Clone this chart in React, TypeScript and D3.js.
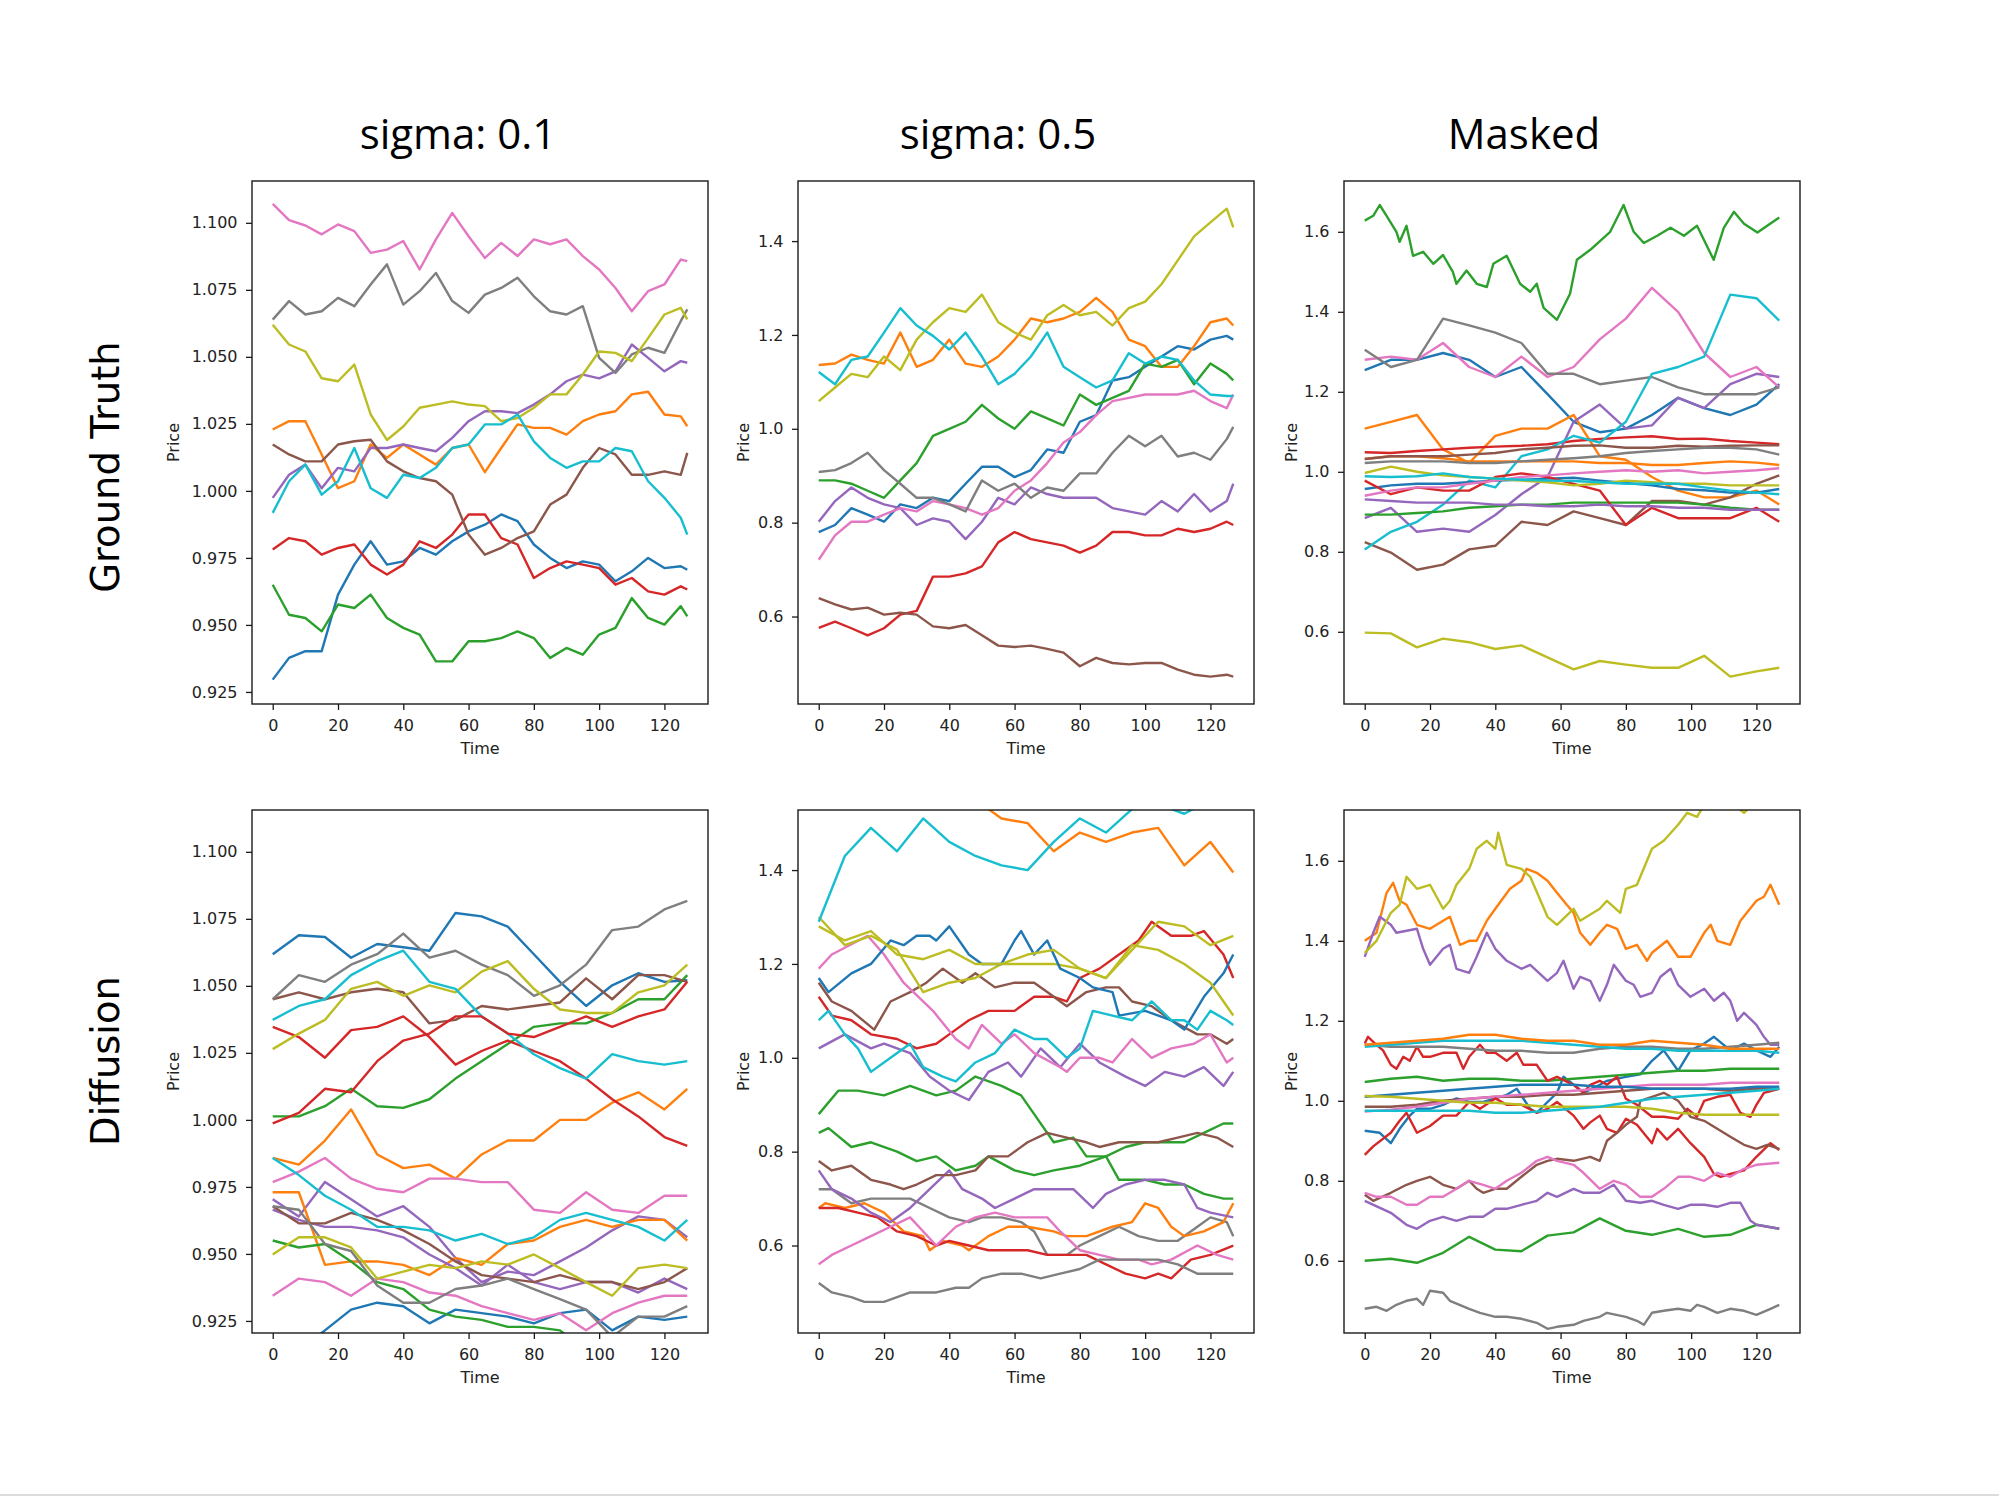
import { useEffect, useRef } from "react";
import * as d3 from "d3";

// matplotlib default colour cycle, series i uses colors[i % 10]
const colors = ["#1f77b4", "#ff7f0e", "#2ca02c", "#d62728", "#9467bd", "#8c564b", "#e377c2", "#7f7f7f", "#bcbd22", "#17becf"];

// sample times the paths were read at
const timesFine = [0, 5, 10, 15, 20, 25, 30, 35, 40, 45, 50, 55, 60, 65, 70, 75, 80, 85, 90, 95, 100, 105, 110, 115, 120, 125, 127];
const timesCoarse = [0, 8, 16, 24, 32, 40, 48, 56, 64, 72, 80, 88, 96, 104, 112, 120, 127];

const xTicks = [0, 20, 40, 60, 80, 100, 120];
const yTicksSigma01 = [0.925, 0.95, 0.975, 1.0, 1.025, 1.05, 1.075, 1.1];
const yTicksSigma05 = [0.6, 0.8, 1.0, 1.2, 1.4];
const yTicksMasked = [0.6, 0.8, 1.0, 1.2, 1.4, 1.6];

const columnTitles = ["sigma: 0.1", "sigma: 0.5", "Masked"];
const rowTitles = ["Ground Truth", "Diffusion"];

type Pt = [number, number];
const onGrid = (times: number[], values: number[]): Pt[] => values.map((v, i) => [times[i], v] as Pt);
const g8 = (values: number[]) => onGrid(timesCoarse, values);

// ground truth, sigma 0.1 (timesFine)
const gtSigma01 = [
  [0.9296, 0.9377, 0.9402, 0.9402, 0.9613, 0.9725, 0.9812, 0.9725, 0.9737, 0.9787, 0.9762, 0.9812, 0.9849, 0.9874, 0.9912, 0.9887, 0.98, 0.975, 0.9712, 0.9737, 0.9725, 0.9663, 0.97, 0.975, 0.9712, 0.9719, 0.9706],
  [1.0229, 1.026, 1.026, 1.0136, 1.001, 1.0036, 1.0173, 1.0123, 1.0173, 1.0136, 1.0098, 1.016, 1.0173, 1.007, 1.016, 1.0248, 1.0235, 1.0235, 1.021, 1.026, 1.0285, 1.0297, 1.036, 1.037, 1.0285, 1.0278, 1.0241],
  [0.965, 0.9538, 0.9526, 0.9476, 0.9576, 0.9563, 0.9613, 0.9526, 0.9489, 0.9464, 0.9364, 0.9364, 0.9439, 0.9439, 0.9451, 0.9476, 0.9451, 0.9377, 0.9414, 0.9389, 0.9464, 0.9489, 0.96, 0.9526, 0.9501, 0.957, 0.9532],
  [0.9781, 0.9824, 0.9812, 0.9762, 0.9787, 0.98, 0.9725, 0.9688, 0.9725, 0.9812, 0.9787, 0.9837, 0.9912, 0.9912, 0.9824, 0.98, 0.9675, 0.9712, 0.9737, 0.9725, 0.9712, 0.965, 0.9675, 0.9625, 0.9613, 0.9644, 0.9632],
  [0.9974, 1.006, 1.0098, 1.001, 1.0086, 1.0073, 1.016, 1.016, 1.0173, 1.016, 1.0148, 1.0198, 1.026, 1.0297, 1.0297, 1.029, 1.0322, 1.036, 1.0409, 1.0434, 1.042, 1.0446, 1.0546, 1.0496, 1.0446, 1.0484, 1.0478],
  [1.0173, 1.0136, 1.011, 1.011, 1.0173, 1.0185, 1.0191, 1.011, 1.0073, 1.0048, 1.0036, 0.9986, 0.9837, 0.9762, 0.9787, 0.9824, 0.9849, 0.9949, 0.9986, 1.0086, 1.016, 1.0136, 1.006, 1.006, 1.0073, 1.006, 1.0142],
  [1.1071, 1.101, 1.099, 1.0957, 1.0994, 1.0969, 1.0888, 1.09, 1.0932, 1.0826, 1.0938, 1.1037, 1.095, 1.0869, 1.0925, 1.0876, 1.0938, 1.092, 1.0938, 1.0876, 1.0826, 1.0757, 1.067, 1.0745, 1.077, 1.0863, 1.0857],
  [1.0639, 1.0708, 1.0658, 1.067, 1.072, 1.0689, 1.077, 1.0845, 1.0695, 1.0745, 1.0813, 1.0708, 1.0664, 1.0732, 1.0757, 1.0795, 1.0726, 1.067, 1.0658, 1.0689, 1.0496, 1.044, 1.0509, 1.0534, 1.0515, 1.0633, 1.0677],
  [1.062, 1.0546, 1.052, 1.042, 1.0409, 1.0471, 1.0285, 1.019, 1.024, 1.031, 1.0322, 1.0334, 1.0322, 1.0316, 1.026, 1.0272, 1.031, 1.036, 1.036, 1.0434, 1.052, 1.0515, 1.0484, 1.057, 1.0658, 1.0683, 1.064],
  [0.9918, 1.0036, 1.0098, 0.9986, 1.0036, 1.016, 1.001, 0.9974, 1.006, 1.0048, 1.0086, 1.016, 1.0173, 1.0248, 1.0248, 1.0285, 1.0185, 1.0123, 1.0086, 1.011, 1.011, 1.016, 1.0148, 1.0036, 0.9974, 0.99, 0.9837],
];

// ground truth, sigma 0.5 (timesFine)
const gtSigma05 = [
  [0.78, 0.795, 0.831, 0.817, 0.802, 0.839, 0.831, 0.853, 0.846, 0.883, 0.919, 0.919, 0.897, 0.912, 0.956, 0.949, 1.015, 1.029, 1.103, 1.11, 1.132, 1.154, 1.176, 1.169, 1.19, 1.198, 1.19],
  [1.136, 1.139, 1.158, 1.147, 1.139, 1.205, 1.132, 1.147, 1.19, 1.139, 1.132, 1.154, 1.19, 1.235, 1.227, 1.235, 1.249, 1.279, 1.249, 1.19, 1.176, 1.132, 1.132, 1.176, 1.227, 1.235, 1.22],
  [0.89, 0.89, 0.883, 0.868, 0.853, 0.89, 0.927, 0.985, 1.0, 1.015, 1.051, 1.022, 1.0, 1.037, 1.022, 1.007, 1.073, 1.051, 1.066, 1.081, 1.139, 1.132, 1.147, 1.095, 1.139, 1.117, 1.103],
  [0.576, 0.589, 0.575, 0.56, 0.575, 0.604, 0.612, 0.685, 0.685, 0.692, 0.707, 0.758, 0.78, 0.765, 0.758, 0.751, 0.736, 0.751, 0.78, 0.78, 0.773, 0.773, 0.787, 0.78, 0.787, 0.802, 0.795],
  [0.802, 0.846, 0.875, 0.853, 0.839, 0.831, 0.795, 0.809, 0.802, 0.765, 0.802, 0.853, 0.839, 0.875, 0.861, 0.853, 0.853, 0.853, 0.831, 0.824, 0.817, 0.846, 0.824, 0.861, 0.824, 0.846, 0.883],
  [0.639, 0.626, 0.615, 0.619, 0.604, 0.608, 0.604, 0.579, 0.575, 0.582, 0.56, 0.538, 0.535, 0.538, 0.531, 0.523, 0.494, 0.512, 0.501, 0.498, 0.501, 0.501, 0.487, 0.476, 0.472, 0.476, 0.472],
  [0.721, 0.773, 0.802, 0.802, 0.817, 0.831, 0.824, 0.846, 0.839, 0.831, 0.817, 0.831, 0.868, 0.89, 0.927, 0.971, 0.993, 1.029, 1.059, 1.066, 1.073, 1.073, 1.073, 1.081, 1.059, 1.044, 1.073],
  [0.908, 0.912, 0.927, 0.949, 0.912, 0.883, 0.853, 0.853, 0.839, 0.824, 0.89, 0.868, 0.883, 0.853, 0.875, 0.868, 0.905, 0.905, 0.949, 0.985, 0.963, 0.985, 0.941, 0.949, 0.934, 0.978, 1.004],
  [1.059, 1.088, 1.117, 1.11, 1.154, 1.125, 1.19, 1.227, 1.257, 1.249, 1.286, 1.227, 1.205, 1.19, 1.242, 1.264, 1.242, 1.249, 1.22, 1.257, 1.271, 1.308, 1.359, 1.41, 1.44, 1.469, 1.429],
  [1.121, 1.095, 1.147, 1.154, 1.205, 1.257, 1.22, 1.198, 1.169, 1.205, 1.154, 1.095, 1.117, 1.154, 1.205, 1.132, 1.11, 1.088, 1.103, 1.161, 1.139, 1.154, 1.147, 1.103, 1.073, 1.07, 1.07],
];

// ground truth, masked (timesCoarse); the top green path is read more finely below
const gtMasked = [
  [1.254, 1.28, 1.28, 1.297, 1.28, 1.237, 1.262, 1.194, 1.125, 1.099, 1.108, 1.142, 1.185, 1.159, 1.142, 1.168, 1.219],
  [1.108, 1.125, 1.142, 1.056, 1.022, 1.09, 1.108, 1.108, 1.142, 1.039, 1.03, 0.987, 0.953, 0.936, 0.936, 0.953, 0.918],
  [1.628, 1.667, 1.555, 1.542, 1.503, 1.512, 1.469, 1.409, 1.49, 1.581, 1.667, 1.572, 1.606, 1.572, 1.632, 1.598, 1.636],
  [1.049, 1.047, 1.052, 1.056, 1.06, 1.063, 1.065, 1.069, 1.077, 1.082, 1.086, 1.089, 1.082, 1.083, 1.077, 1.073, 1.069],
  [0.884, 0.91, 0.85, 0.858, 0.85, 0.892, 0.944, 0.987, 1.125, 1.168, 1.108, 1.116, 1.185, 1.159, 1.219, 1.245, 1.237],
  [0.824, 0.798, 0.755, 0.768, 0.806, 0.815, 0.875, 0.867, 0.901, 0.884, 0.867, 0.927, 0.927, 0.918, 0.936, 0.97, 0.991],
  [1.28, 1.288, 1.28, 1.322, 1.262, 1.237, 1.288, 1.237, 1.262, 1.331, 1.383, 1.46, 1.4, 1.297, 1.237, 1.262, 1.211],
  [1.305, 1.262, 1.28, 1.383, 1.366, 1.348, 1.322, 1.245, 1.245, 1.219, 1.228, 1.237, 1.211, 1.194, 1.194, 1.194, 1.211],
  [0.598, 0.596, 0.561, 0.583, 0.574, 0.557, 0.566, 0.536, 0.506, 0.527, 0.518, 0.51, 0.51, 0.54, 0.488, 0.501, 0.51],
  [0.806, 0.85, 0.875, 0.918, 0.978, 0.961, 1.039, 1.056, 1.09, 1.073, 1.125, 1.245, 1.262, 1.288, 1.443, 1.434, 1.378],
  [0.957, 0.966, 0.97, 0.97, 0.974, 0.978, 0.98, 0.983, 0.985, 0.978, 0.972, 0.966, 0.957, 0.954, 0.948, 0.948, 0.957],
  [1.032, 1.039, 1.039, 1.034, 1.026, 1.026, 1.026, 1.026, 1.026, 1.022, 1.022, 1.017, 1.017, 1.022, 1.026, 1.023, 1.017],
  [0.893, 0.893, 0.897, 0.901, 0.91, 0.914, 0.918, 0.918, 0.923, 0.923, 0.923, 0.923, 0.923, 0.918, 0.91, 0.905, 0.905],
  [0.978, 0.944, 0.961, 0.953, 0.953, 0.987, 0.996, 0.987, 0.97, 0.953, 0.867, 0.91, 0.884, 0.884, 0.884, 0.91, 0.875],
  [0.931, 0.927, 0.923, 0.923, 0.923, 0.918, 0.918, 0.914, 0.914, 0.918, 0.914, 0.914, 0.91, 0.91, 0.905, 0.905, 0.905],
  [1.032, 1.039, 1.039, 1.039, 1.043, 1.047, 1.056, 1.06, 1.065, 1.066, 1.06, 1.06, 1.065, 1.063, 1.065, 1.066, 1.066],
  [0.94, 0.953, 0.961, 0.961, 0.97, 0.978, 0.987, 0.991, 0.996, 1.0, 1.004, 1.0, 1.004, 0.996, 1.0, 1.004, 1.009],
  [1.022, 1.026, 1.026, 1.026, 1.022, 1.022, 1.026, 1.03, 1.034, 1.039, 1.047, 1.052, 1.056, 1.06, 1.06, 1.056, 1.043],
  [0.997, 1.013, 1.0, 0.991, 0.987, 0.983, 0.978, 0.974, 0.966, 0.97, 0.978, 0.974, 0.97, 0.97, 0.966, 0.966, 0.966],
  [0.989, 0.987, 0.989, 0.996, 0.987, 0.983, 0.98, 0.978, 0.977, 0.974, 0.97, 0.97, 0.97, 0.961, 0.953, 0.948, 0.944],
];
const gtMaskedGreen: Pt[] = [
  [0, 1.628], [2.6, 1.64], [4.6, 1.667], [6.7, 1.64], [9.7, 1.6], [10.7, 1.575], [12.8, 1.615], [14.8, 1.54], [17.9, 1.55], [21, 1.52], [24, 1.542], [27, 1.5],
  [28.1, 1.47], [31.2, 1.503], [34.3, 1.47], [37.4, 1.462], [39.4, 1.52], [43.5, 1.54], [47.6, 1.47], [50.7, 1.45], [52.7, 1.47], [54.8, 1.41], [58.9, 1.38],
  [62.9, 1.445], [65, 1.53], [69.1, 1.555], [75.2, 1.6], [79.3, 1.667], [82.4, 1.6], [85.5, 1.572], [89.6, 1.59], [93.7, 1.61], [97.8, 1.59], [101.8, 1.615],
  [106.9, 1.53], [110, 1.61], [113.1, 1.65], [116.2, 1.62], [120.3, 1.598], [123.3, 1.615], [127, 1.636],
];

// diffusion, sigma 0.1 (timesCoarse)
const diffSigma01 = [
  [1.0618, 1.0689, 1.0682, 1.0605, 1.0656, 1.0644, 1.0631, 1.0772, 1.0759, 1.0721, 1.0618, 1.0515, 1.0425, 1.0502, 1.0547, 1.0515, 1.0521],
  [0.9858, 0.9833, 0.9923, 1.0039, 0.9871, 0.982, 0.9833, 0.9781, 0.9871, 0.9923, 0.9923, 1.0, 1.0, 1.0064, 1.0103, 1.0039, 1.0116],
  [1.0013, 1.0013, 1.0051, 1.0116, 1.0051, 1.0045, 1.0077, 1.0154, 1.0219, 1.0283, 1.0347, 1.036, 1.036, 1.0399, 1.045, 1.045, 1.054],
  [1.0347, 1.0309, 1.0232, 1.0335, 1.0347, 1.0386, 1.0309, 1.0206, 1.0257, 1.0296, 1.0257, 1.0219, 1.0154, 1.0077, 1.0013, 0.9936, 0.9903],
  [0.9704, 0.964, 0.9768, 0.9704, 0.964, 0.9678, 0.9601, 0.9485, 0.9395, 0.9434, 0.9421, 0.9472, 0.9524, 0.9588, 0.964, 0.9627, 0.9562],
  [1.045, 1.0476, 1.045, 1.0476, 1.0489, 1.0476, 1.036, 1.0373, 1.0425, 1.0412, 1.0425, 1.0438, 1.0528, 1.045, 1.054, 1.054, 1.0515],
  [0.9768, 0.9807, 0.9858, 0.9781, 0.9743, 0.973, 0.9781, 0.9781, 0.9768, 0.9768, 0.9665, 0.9653, 0.973, 0.9665, 0.9653, 0.9717, 0.9717],
  [1.045, 1.054, 1.0515, 1.0579, 1.0618, 1.0695, 1.0605, 1.0631, 1.0579, 1.054, 1.0463, 1.0502, 1.0579, 1.0708, 1.0721, 1.0785, 1.0817],
  [1.0264, 1.0322, 1.0373, 1.0489, 1.0515, 1.0463, 1.0502, 1.0476, 1.0553, 1.0592, 1.0489, 1.0412, 1.0399, 1.0399, 1.0476, 1.0502, 1.0579],
  [1.0373, 1.0425, 1.045, 1.054, 1.0592, 1.0631, 1.0515, 1.0489, 1.0386, 1.0322, 1.0245, 1.0193, 1.0154, 1.0245, 1.0219, 1.0206, 1.0219],
  [0.911, 0.9138, 0.9215, 0.9292, 0.9318, 0.9305, 0.9241, 0.9292, 0.9279, 0.9266, 0.9241, 0.9279, 0.9292, 0.9215, 0.9266, 0.9254, 0.9266],
  [0.973, 0.973, 0.9459, 0.9472, 0.9472, 0.9459, 0.9421, 0.9485, 0.9459, 0.9537, 0.955, 0.9601, 0.9627, 0.9601, 0.9627, 0.9627, 0.955],
  [0.955, 0.9524, 0.9537, 0.9472, 0.9395, 0.9369, 0.9292, 0.9266, 0.9254, 0.9228, 0.9228, 0.9215, 0.9138, 0.911, 0.9138, 0.912, 0.9138],
  [0.9987, 1.0026, 1.0116, 1.0103, 1.0219, 1.0296, 1.0322, 1.0386, 1.0386, 1.0322, 1.0309, 1.0347, 1.0386, 1.0347, 1.0386, 1.0412, 1.0515],
  [0.9665, 0.9627, 0.9601, 0.9601, 0.9588, 0.9562, 0.9498, 0.9447, 0.9382, 0.946, 0.9395, 0.9369, 0.9395, 0.9395, 0.9356, 0.9408, 0.9369],
  [0.9678, 0.9614, 0.9614, 0.9653, 0.9627, 0.9588, 0.9537, 0.9472, 0.9421, 0.9408, 0.9395, 0.9421, 0.9395, 0.9395, 0.9369, 0.9395, 0.9447],
  [0.9344, 0.9408, 0.9395, 0.9344, 0.9408, 0.9395, 0.9356, 0.9344, 0.9305, 0.9279, 0.9254, 0.9279, 0.9215, 0.9279, 0.9318, 0.9344, 0.9344],
  [0.9678, 0.9665, 0.9537, 0.9511, 0.9382, 0.9318, 0.9318, 0.9369, 0.9382, 0.9408, 0.9369, 0.9331, 0.9292, 0.919, 0.9266, 0.9266, 0.9305],
  [0.9498, 0.9562, 0.9562, 0.9524, 0.9408, 0.9434, 0.9459, 0.9447, 0.9472, 0.946, 0.9498, 0.9447, 0.9395, 0.9344, 0.9447, 0.946, 0.9447],
  [0.9858, 0.9794, 0.9717, 0.9665, 0.9601, 0.9601, 0.9588, 0.955, 0.9575, 0.9537, 0.9562, 0.9627, 0.9653, 0.9627, 0.9601, 0.955, 0.9627],
];

// diffusion, sigma 0.5 ([time, price] points)
const diffSigma05: Pt[][] = [
  g8([1.53, 1.58, 1.6, 1.62, 1.6, 1.62, 1.64, 1.62, 1.6, 1.62, 1.6, 1.58, 1.6, 1.62, 1.6, 1.6, 1.62]),
  g8([1.6, 1.62, 1.6, 1.58, 1.57, 1.56, 1.55, 1.51, 1.5, 1.44, 1.48, 1.46, 1.48, 1.49, 1.41, 1.46, 1.395]),
  [[0, 0.88], [6, 0.93], [12, 0.93], [20, 0.92], [28, 0.94], [36, 0.92], [42, 0.93], [48, 0.96], [56, 0.94], [62, 0.92], [66, 0.88], [72, 0.82], [78, 0.83], [82, 0.79], [88, 0.79], [92, 0.74], [100, 0.74], [106, 0.73], [112, 0.73], [118, 0.71], [124, 0.7], [127, 0.7]],
  [[0, 1.13], [4, 1.09], [10, 1.08], [16, 1.05], [24, 1.04], [30, 1.02], [36, 1.03], [42, 1.06], [46, 1.08], [52, 1.1], [60, 1.1], [66, 1.13], [72, 1.13], [76, 1.12], [80, 1.17], [86, 1.19], [92, 1.22], [98, 1.25], [102, 1.29], [108, 1.26], [114, 1.26], [118, 1.27], [124, 1.22], [127, 1.17]],
  [[0, 1.02], [8, 1.05], [16, 1.02], [20, 1.03], [28, 1.01], [34, 0.96], [40, 0.93], [46, 0.91], [52, 0.97], [58, 0.99], [62, 0.96], [68, 1.02], [74, 0.98], [80, 1.03], [86, 0.99], [94, 0.96], [100, 0.94], [106, 0.97], [112, 0.96], [118, 0.98], [124, 0.94], [127, 0.97]],
  [[0, 1.16], [4, 1.12], [10, 1.1], [17, 1.06], [22, 1.12], [28, 1.14], [33, 1.16], [38, 1.19], [44, 1.16], [48, 1.18], [54, 1.15], [60, 1.16], [66, 1.16], [70, 1.14], [76, 1.11], [82, 1.14], [88, 1.15], [92, 1.15], [96, 1.12], [102, 1.11], [108, 1.08], [116, 1.05], [120, 1.05], [125, 1.03], [127, 1.04]],
  [[0, 1.19], [4, 1.22], [15, 1.26], [20, 1.22], [26, 1.16], [35, 1.1], [42, 1.04], [46, 1.02], [50, 1.07], [56, 1.03], [60, 1.05], [66, 1.01], [74, 0.98], [76, 0.97], [80, 1.0], [86, 1.0], [90, 0.99], [96, 1.04], [102, 1.0], [108, 1.02], [115, 1.03], [120, 1.05], [125, 0.99], [127, 1.0]],
  [[0, 0.72], [4, 0.72], [10, 0.69], [16, 0.7], [22, 0.7], [28, 0.7], [34, 0.68], [40, 0.66], [46, 0.65], [50, 0.66], [56, 0.66], [62, 0.65], [66, 0.63], [70, 0.58], [76, 0.58], [80, 0.6], [86, 0.62], [92, 0.64], [98, 0.62], [104, 0.61], [110, 0.61], [116, 0.64], [120, 0.66], [125, 0.65], [127, 0.62]],
  g8([1.3, 1.24, 1.26, 1.23, 1.14, 1.16, 1.17, 1.2, 1.2, 1.2, 1.19, 1.17, 1.23, 1.29, 1.28, 1.24, 1.26]),
  g8([1.29, 1.43, 1.49, 1.44, 1.51, 1.46, 1.43, 1.41, 1.4, 1.46, 1.51, 1.48, 1.53, 1.54, 1.52, 1.55, 1.56]),
  [[0, 1.17], [3, 1.14], [10, 1.18], [16, 1.2], [22, 1.25], [26, 1.24], [30, 1.26], [34, 1.26], [36, 1.25], [40, 1.28], [46, 1.22], [50, 1.2], [56, 1.2], [60, 1.25], [62, 1.27], [66, 1.22], [70, 1.25], [74, 1.19], [80, 1.17], [84, 1.15], [90, 1.14], [92, 1.09], [100, 1.1], [108, 1.08], [112, 1.06], [118, 1.13], [124, 1.18], [127, 1.22]],
  [[0, 0.68], [2, 0.69], [8, 0.68], [14, 0.69], [20, 0.67], [26, 0.63], [32, 0.62], [34, 0.59], [38, 0.61], [44, 0.6], [46, 0.59], [52, 0.62], [58, 0.64], [64, 0.64], [72, 0.63], [76, 0.62], [82, 0.62], [90, 0.64], [96, 0.65], [100, 0.69], [104, 0.68], [108, 0.64], [112, 0.62], [118, 0.63], [124, 0.65], [127, 0.69]],
  [[0, 0.84], [3, 0.85], [10, 0.81], [16, 0.82], [24, 0.8], [30, 0.78], [36, 0.79], [42, 0.76], [48, 0.77], [52, 0.79], [60, 0.76], [66, 0.75], [72, 0.76], [80, 0.77], [88, 0.79], [94, 0.81], [100, 0.82], [106, 0.82], [112, 0.82], [118, 0.84], [124, 0.86], [127, 0.86]],
  [[0, 0.68], [6, 0.68], [12, 0.67], [18, 0.66], [24, 0.63], [30, 0.62], [36, 0.6], [40, 0.61], [46, 0.6], [52, 0.59], [58, 0.59], [64, 0.59], [70, 0.58], [76, 0.58], [82, 0.58], [88, 0.56], [94, 0.54], [100, 0.53], [104, 0.54], [108, 0.53], [114, 0.57], [120, 0.58], [127, 0.6]],
  [[0, 0.76], [4, 0.72], [10, 0.7], [16, 0.67], [22, 0.65], [28, 0.68], [34, 0.72], [40, 0.76], [44, 0.72], [50, 0.7], [54, 0.68], [60, 0.7], [66, 0.72], [72, 0.72], [78, 0.72], [84, 0.68], [88, 0.71], [94, 0.73], [100, 0.74], [106, 0.74], [112, 0.73], [116, 0.68], [120, 0.67], [127, 0.66]],
  [[0, 0.78], [4, 0.76], [10, 0.77], [16, 0.74], [22, 0.73], [26, 0.72], [30, 0.73], [36, 0.75], [42, 0.75], [48, 0.76], [52, 0.79], [58, 0.79], [64, 0.82], [70, 0.84], [76, 0.83], [82, 0.82], [86, 0.81], [92, 0.82], [98, 0.82], [104, 0.82], [110, 0.83], [116, 0.84], [122, 0.83], [127, 0.81]],
  [[0, 0.56], [4, 0.58], [10, 0.6], [16, 0.62], [22, 0.64], [28, 0.66], [36, 0.6], [42, 0.64], [48, 0.66], [54, 0.67], [60, 0.66], [66, 0.66], [70, 0.66], [74, 0.63], [80, 0.59], [86, 0.58], [92, 0.57], [98, 0.57], [102, 0.56], [108, 0.57], [116, 0.6], [122, 0.58], [127, 0.57]],
  [[0, 0.52], [4, 0.5], [10, 0.49], [14, 0.48], [20, 0.48], [28, 0.5], [36, 0.5], [42, 0.51], [46, 0.51], [50, 0.53], [56, 0.54], [62, 0.54], [68, 0.53], [74, 0.54], [80, 0.55], [86, 0.57], [92, 0.57], [98, 0.57], [104, 0.57], [110, 0.56], [116, 0.54], [122, 0.54], [127, 0.54]],
  g8([1.28, 1.25, 1.27, 1.22, 1.21, 1.23, 1.2, 1.2, 1.22, 1.23, 1.19, 1.17, 1.24, 1.23, 1.2, 1.16, 1.09]),
  [[0, 1.08], [3, 1.1], [8, 1.05], [12, 1.02], [16, 0.97], [22, 1.0], [28, 1.03], [32, 0.98], [38, 0.96], [42, 0.95], [48, 0.99], [54, 1.01], [60, 1.06], [66, 1.04], [70, 1.04], [76, 1.0], [80, 1.02], [84, 1.1], [90, 1.09], [96, 1.08], [102, 1.12], [108, 1.08], [112, 1.08], [116, 1.06], [120, 1.1], [125, 1.08], [127, 1.07]],
];

// diffusion, masked ([time, price] points)
const diffMasked: Pt[][] = [
  [[0, 0.925], [4.6, 0.92], [8, 0.894], [10.7, 0.93], [13.8, 0.963], [16, 0.98], [20, 0.98], [24, 0.99], [28.1, 1.006], [32, 0.997], [36.3, 0.997], [40, 1.006], [43.5, 1.015], [46.6, 1.03], [50.7, 0.98], [52.7, 0.97], [56, 0.997], [58.9, 1.02], [60.9, 1.06], [64, 1.04], [67, 1.02], [72, 1.04], [74.2, 1.05], [80, 1.06], [84.4, 1.066], [88, 1.1], [91.6, 1.126], [96, 1.075], [99.8, 1.126], [104, 1.143], [107, 1.16], [112, 1.126], [116.2, 1.143], [120, 1.126], [124.3, 1.11], [127, 1.135]],
  [[0, 1.4], [3.6, 1.42], [6.7, 1.52], [8.7, 1.545], [10.7, 1.5], [12.8, 1.49], [16, 1.44], [20, 1.43], [24, 1.45], [26.1, 1.46], [29.2, 1.39], [32, 1.4], [34.3, 1.4], [37.4, 1.45], [40, 1.48], [44.5, 1.53], [48, 1.55], [49.6, 1.58], [52.7, 1.57], [56, 1.55], [58.9, 1.52], [61.9, 1.49], [64, 1.47], [66, 1.42], [69.1, 1.39], [72, 1.42], [74.2, 1.44], [77.3, 1.43], [80, 1.38], [83.4, 1.39], [86.5, 1.35], [88, 1.37], [92.6, 1.4], [96, 1.36], [99.8, 1.36], [104, 1.42], [106, 1.44], [108, 1.4], [112, 1.39], [115.1, 1.45], [120, 1.5], [122.3, 1.51], [124.3, 1.54], [127, 1.49]],
  g8([1.047, 1.055, 1.06, 1.05, 1.055, 1.055, 1.05, 1.05, 1.055, 1.06, 1.065, 1.07, 1.075, 1.075, 1.08, 1.08, 1.08]),
  [[0, 1.143], [1, 1.16], [3.6, 1.14], [5.6, 1.126], [8, 1.09], [9.7, 1.08], [11.8, 1.11], [13.8, 1.1], [16, 1.135], [17.9, 1.11], [20, 1.11], [24, 1.12], [28.1, 1.12], [30.2, 1.08], [32, 1.11], [35.3, 1.14], [37.4, 1.12], [40, 1.12], [43.5, 1.1], [46.6, 1.12], [48.6, 1.09], [52.7, 1.09], [56, 1.05], [58.9, 1.06], [64, 1.04], [67, 1.02], [69.1, 1.04], [72, 1.05], [74.2, 1.04], [77.3, 1.06], [80, 1.005], [83.4, 0.99], [88, 0.96], [91.6, 0.96], [96, 0.955], [98.8, 0.98], [101.8, 0.96], [104, 1.0], [108, 1.01], [112, 1.015], [115.1, 0.97], [118.2, 0.96], [120, 0.99], [122.3, 1.02], [127, 1.03]],
  [[0, 1.36], [2.6, 1.42], [4.6, 1.46], [8, 1.44], [9.7, 1.42], [16, 1.43], [17.9, 1.38], [20, 1.34], [22, 1.36], [24, 1.38], [26.1, 1.39], [28.1, 1.33], [32, 1.32], [34.3, 1.36], [37.4, 1.42], [40, 1.38], [43.5, 1.35], [48, 1.33], [50.7, 1.34], [56, 1.3], [58.9, 1.32], [60.9, 1.35], [64, 1.28], [66, 1.31], [69.1, 1.3], [72, 1.25], [74.2, 1.29], [76.3, 1.34], [80, 1.3], [82.4, 1.29], [84.4, 1.26], [88, 1.27], [90.6, 1.31], [93.7, 1.33], [96, 1.29], [99.8, 1.26], [104, 1.28], [107, 1.25], [110, 1.27], [112, 1.25], [114.1, 1.2], [116.2, 1.22], [120, 1.19], [122.3, 1.16], [124.3, 1.14], [127, 1.14]],
  g8([0.985, 0.985, 0.99, 1.0, 1.005, 1.01, 1.01, 1.015, 1.015, 1.02, 1.025, 1.03, 1.03, 1.03, 1.025, 1.03, 1.03]),
  g8([0.973, 0.978, 0.985, 0.995, 1.005, 1.01, 1.015, 1.02, 1.025, 1.03, 1.035, 1.04, 1.04, 1.04, 1.045, 1.045, 1.045]),
  g8([1.14, 1.135, 1.135, 1.135, 1.13, 1.125, 1.125, 1.12, 1.12, 1.13, 1.135, 1.135, 1.13, 1.13, 1.135, 1.14, 1.145]),
  [[0, 1.37], [3.6, 1.4], [8, 1.47], [10.7, 1.49], [12.8, 1.56], [16, 1.53], [20, 1.54], [24, 1.48], [26.1, 1.5], [28.1, 1.54], [32, 1.58], [34.3, 1.63], [37.4, 1.65], [40, 1.63], [40.9, 1.67], [43.5, 1.59], [48, 1.58], [50.7, 1.56], [56, 1.46], [58.9, 1.44], [64, 1.48], [66, 1.45], [72, 1.48], [74.2, 1.5], [78.3, 1.47], [80, 1.53], [83.4, 1.54], [88, 1.63], [91.6, 1.65], [96, 1.69], [98.8, 1.72], [101.8, 1.71], [104, 1.74], [110, 1.76], [116.2, 1.72], [120, 1.75], [127, 1.77]],
  g8([1.135, 1.14, 1.145, 1.15, 1.15, 1.15, 1.15, 1.145, 1.14, 1.135, 1.13, 1.13, 1.125, 1.125, 1.125, 1.125, 1.12]),
  g8([1.01, 1.015, 1.02, 1.025, 1.03, 1.035, 1.04, 1.04, 1.04, 1.035, 1.035, 1.03, 1.03, 1.03, 1.03, 1.035, 1.035]),
  g8([1.14, 1.145, 1.15, 1.155, 1.165, 1.165, 1.155, 1.15, 1.15, 1.14, 1.14, 1.15, 1.145, 1.14, 1.13, 1.13, 1.13]),
  g8([0.6, 0.605, 0.595, 0.62, 0.66, 0.628, 0.624, 0.663, 0.671, 0.706, 0.675, 0.665, 0.68, 0.66, 0.665, 0.69, 0.68]),
  [[0, 0.865], [2.6, 0.886], [8, 0.92], [10.7, 0.95], [12.8, 0.97], [16, 0.92], [20, 0.937], [24, 0.963], [28.1, 0.963], [32, 0.997], [35.3, 0.98], [40, 1.006], [43.5, 0.99], [48, 0.99], [52.7, 0.97], [56, 0.98], [58.9, 0.997], [64, 0.963], [67, 0.93], [69.1, 0.946], [72, 0.963], [74.2, 0.93], [77.3, 0.92], [80, 0.955], [83.4, 0.94], [88, 0.894], [89.6, 0.93], [92.6, 0.903], [96, 0.93], [99.8, 0.894], [104, 0.86], [107, 0.817], [109, 0.81], [112, 0.817], [116.2, 0.826], [120, 0.86], [124.3, 0.894], [127, 0.877]],
  [[0, 0.75], [8, 0.72], [12.8, 0.69], [16, 0.68], [20, 0.7], [24, 0.71], [28.1, 0.7], [32, 0.71], [36.3, 0.71], [40, 0.73], [43.5, 0.73], [48, 0.74], [52.7, 0.75], [56, 0.77], [58.9, 0.76], [64, 0.78], [67, 0.77], [72, 0.77], [76.3, 0.79], [80, 0.75], [84.4, 0.745], [88, 0.75], [91.6, 0.74], [96, 0.73], [99.8, 0.74], [104, 0.74], [108, 0.735], [112, 0.745], [115.1, 0.745], [118.2, 0.7], [120, 0.69], [127, 0.68]],
  [[0, 0.765], [2.6, 0.75], [8, 0.77], [12.8, 0.79], [16, 0.8], [20, 0.81], [24, 0.79], [28.1, 0.78], [32, 0.8], [34.3, 0.78], [36.3, 0.77], [40, 0.78], [43.5, 0.78], [48, 0.81], [52.7, 0.84], [56, 0.85], [58.9, 0.855], [64, 0.85], [69.1, 0.86], [72, 0.85], [74.2, 0.9], [77.3, 0.92], [80, 0.94], [83.4, 0.96], [84.4, 1.0], [88, 1.01], [91.6, 1.02], [96, 1.0], [99.8, 0.96], [104, 0.95], [108, 0.93], [112, 0.91], [116.2, 0.89], [120, 0.88], [123.3, 0.89], [127, 0.88]],
  [[0, 0.77], [3.6, 0.76], [8, 0.76], [12.8, 0.74], [16, 0.74], [20, 0.76], [24, 0.76], [28.1, 0.78], [32, 0.8], [36.3, 0.79], [40, 0.78], [43.5, 0.8], [48, 0.82], [52.7, 0.85], [56, 0.86], [58.9, 0.85], [64, 0.84], [67, 0.82], [72, 0.78], [76.3, 0.8], [80, 0.79], [84.4, 0.76], [88, 0.76], [91.6, 0.78], [96, 0.81], [99.8, 0.81], [104, 0.8], [108, 0.82], [112, 0.81], [116.2, 0.83], [120, 0.84], [127, 0.845]],
  [[0, 0.48], [3.6, 0.485], [6.7, 0.475], [9.7, 0.49], [12.8, 0.5], [16, 0.505], [17.9, 0.49], [20, 0.525], [24, 0.52], [26.1, 0.5], [32, 0.48], [35.3, 0.47], [40, 0.46], [43.5, 0.46], [48, 0.455], [52.7, 0.445], [56, 0.43], [58.9, 0.435], [64, 0.44], [67, 0.45], [72, 0.46], [74.2, 0.47], [80, 0.46], [83.4, 0.45], [85.5, 0.44], [88, 0.47], [91.6, 0.475], [96, 0.48], [99.8, 0.475], [101.8, 0.49], [104, 0.485], [108, 0.47], [112, 0.48], [116.2, 0.475], [120, 0.465], [124.3, 0.48], [127, 0.49]],
  g8([1.012, 1.01, 1.005, 1.0, 0.995, 0.995, 0.99, 0.985, 0.985, 0.985, 0.985, 0.98, 0.97, 0.965, 0.965, 0.965, 0.965]),
  g8([0.975, 0.975, 0.975, 0.975, 0.975, 0.97, 0.97, 0.975, 0.98, 0.985, 0.995, 1.005, 1.01, 1.015, 1.02, 1.025, 1.03]),
];

// y limits shared down each column
const yDomains = [[0.9205, 1.1156], [0.4136, 1.528], [0.4195, 1.727]];
const yTicks = [yTicksSigma01, yTicksSigma05, yTicksMasked];
const yFormats = [".3f", ".1f", ".1f"];

const gtMaskedSeries = gtMasked.map((s, i) => (i === 2 ? gtMaskedGreen : g8(s)));

const panels = [
  { row: 0, col: 0, series: gtSigma01.map((s) => onGrid(timesFine, s)) },
  { row: 0, col: 1, series: gtSigma05.map((s) => onGrid(timesFine, s)) },
  { row: 0, col: 2, series: gtMaskedSeries },
  { row: 1, col: 0, series: diffSigma01.map((s) => g8(s)) },
  { row: 1, col: 1, series: diffSigma05 },
  { row: 1, col: 2, series: diffMasked },
];

export default function App() {
  const ref = useRef(null);

  useEffect(() => {
    if (!ref.current) return;
    const width = 1999;
    const height = 1501;
    const panelLeft = [252, 798, 1344];
    const panelTop = [181, 810];
    const pw = 456;
    const ph = 523;
    const tickFont = "'DejaVu Sans', sans-serif";
    const ink = "#1a1a1a";

    const root = d3.select(ref.current);
    root.selectAll("*").remove();

    const svg = root
      .append("svg")
      .attr("width", width)
      .attr("height", height)
      .style("position", "absolute")
      .style("left", "0px")
      .style("top", "0px")
      .style("background", "#fff");

    svg.append("line")
      .attr("x1", 0).attr("x2", width)
      .attr("y1", 1495).attr("y2", 1495)
      .attr("stroke", "#dcdcdc").attr("stroke-width", 2);

    const titleX = [458, 998, 1524];
    columnTitles.forEach((t, i) => {
      svg.append("text")
        .attr("x", titleX[i])
        .attr("y", 149)
        .attr("text-anchor", "middle")
        .style("font-family", "'Open Sans', sans-serif")
        .style("font-size", "42px")
        .attr("fill", "#000")
        .text(t);
    });

    const rowCenter = [467, 1061];
    rowTitles.forEach((t, i) => {
      svg.append("text")
        .attr("transform", `translate(119,${rowCenter[i]}) rotate(-90)`)
        .attr("text-anchor", "middle")
        .style("font-family", "'DejaVu Sans', sans-serif")
        .style("font-size", "38.5px")
        .attr("fill", "#000")
        .text(t);
    });

    const x = d3.scaleLinear().domain([-6.35, 133.35]).range([0, pw]);
    const priceOffset = [-78.5, -55, -53];

    panels.forEach((p, pi) => {
      const y = d3.scaleLinear().domain(yDomains[p.col]).range([ph, 0]);
      const g = svg.append("g")
        .attr("transform", `translate(${panelLeft[p.col]},${panelTop[p.row]})`);

      const clipId = `clip-${pi}`;
      g.append("clipPath").attr("id", clipId)
        .append("rect").attr("width", pw).attr("height", ph);

      const line = d3.line<Pt>()
        .x((d) => x(d[0]))
        .y((d) => y(d[1]));

      g.append("g")
        .attr("clip-path", `url(#${clipId})`)
        .selectAll("path")
        .data(p.series)
        .enter()
        .append("path")
        .attr("d", (d) => line(d))
        .attr("fill", "none")
        .attr("stroke", (_, i) => colors[i % 10])
        .attr("stroke-width", 2.4)
        .attr("stroke-linejoin", "round");

      const xAxis = g.append("g")
        .attr("transform", `translate(0,${ph})`)
        .call(d3.axisBottom(x).tickValues(xTicks).tickFormat(d3.format("d")).tickSize(6).tickPadding(9.5));
      const yAxis = g.append("g")
        .call(d3.axisLeft(y).tickValues(yTicks[p.col]).tickFormat(d3.format(yFormats[p.col])).tickSize(6).tickPadding(8.5));

      [xAxis, yAxis].forEach((a) => {
        a.select(".domain").remove();
        a.selectAll("line").attr("stroke", ink).attr("stroke-width", 1.3);
        a.selectAll("text")
          .attr("fill", "#222")
          .style("font-family", tickFont)
          .style("font-size", "16px");
      });

      g.append("rect")
        .attr("width", pw)
        .attr("height", ph)
        .attr("fill", "none")
        .attr("stroke", ink)
        .attr("stroke-width", 1.4);

      g.append("text")
        .attr("x", pw / 2)
        .attr("y", ph + 50)
        .attr("text-anchor", "middle")
        .attr("fill", "#222")
        .style("font-family", tickFont)
        .style("font-size", "16px")
        .text("Time");

      g.append("text")
        .attr("transform", `translate(${priceOffset[p.col]},${ph / 2}) rotate(-90)`)
        .attr("text-anchor", "middle")
        .attr("dominant-baseline", "central")
        .attr("fill", "#222")
        .style("font-family", tickFont)
        .style("font-size", "16px")
        .text("Price");
    });
  }, []);

  return <div ref={ref} />;
}
